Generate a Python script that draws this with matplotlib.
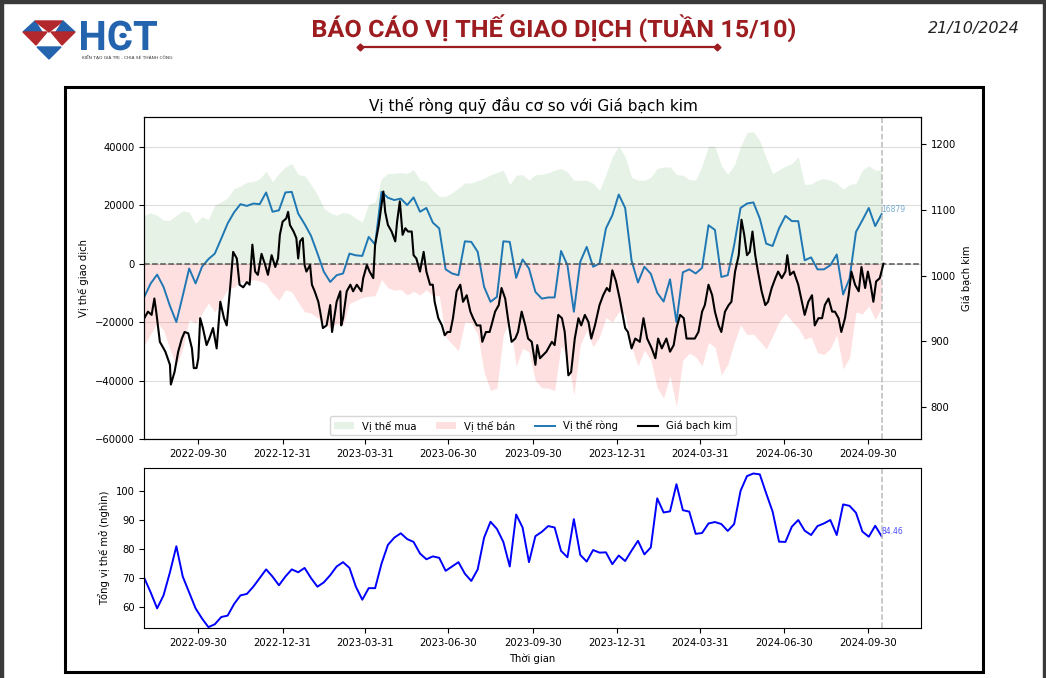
import pandas as pd
import matplotlib
matplotlib.use('Agg')
import matplotlib.pyplot as plt
from matplotlib.patches import Rectangle, Polygon, Circle, PathPatch
from matplotlib.lines import Line2D
from matplotlib.textpath import TextPath
from matplotlib.font_manager import FontProperties
from matplotlib.transforms import Affine2D

# weekly COT report (Tuesdays) from 2022-08-02
week_start = '2022-08-02'
last_week = '2024-10-15'

long_pos = [16500, 17300, 16500, 14800, 14800, 16500, 18000, 17500, 13700, 16000,
            15000, 20000, 21000, 22500, 25600, 26500, 27800, 28000, 29000, 31600,
            28000, 30800, 33000, 34200, 30400, 30000, 27000, 23500, 19000, 17300,
            16500, 17500, 17000, 15500, 14200, 20300, 21000, 29000, 30800, 30800,
            31100, 30800, 32100, 28500, 28000, 25000, 23000, 23000, 24200, 25800,
            27600, 27600, 28300, 29200, 30300, 31200, 31900, 27000, 30200, 30400,
            28500, 30400, 30500, 31000, 31900, 32500, 31300, 28500, 28500, 28500,
            27400, 25000, 30500, 36500, 40100, 36500, 29500, 28500, 28500, 29500,
            32500, 33000, 33000, 30400, 30200, 28700, 28500, 33500, 40100, 40100,
            33500, 30500, 33500, 40000, 44800, 45000, 42000, 36000, 30800, 32000,
            33300, 34200, 36500, 27000, 27200, 28500, 29100, 28500, 27500, 25400,
            27000, 27400, 32000, 33500, 31900, 32000]

short_pos = [-27900, -24100, -20300, -22800, -29300, -35000, -29000, -19200, -20500, -17100,
             -13500, -16600, -12500, -8800, -8100, -6200, -6500, -5500, -6000, -7000,
             -10300, -12600, -9000, -9700, -13300, -16500, -17000, -18500, -20000, -22000,
             -20500, -20900, -13600, -12700, -11600, -11200, -11000, -5500, -8300, -9100,
             -8900, -10800, -9500, -10800, -9000, -11000, -11000, -25000, -27600, -29800,
             -20000, -20200, -24300, -37200, -43400, -42600, -24300, -19600, -35100, -29000,
             -30200, -40100, -42500, -42600, -43500, -28200, -31900, -45000, -27900, -22800,
             -28500, -25000, -18500, -20000, -16500, -17500, -28500, -35000, -29600, -33000,
             -42500, -46000, -38400, -49000, -33000, -30700, -31900, -35000, -27000, -28600,
             -38100, -34500, -27200, -21000, -24300, -24100, -26600, -29200, -24800, -20000,
             -17000, -19700, -22000, -25900, -25100, -30500, -31100, -29100, -24400, -36000,
             -32100, -16600, -17200, -14500, -19100, -15100]

net_pos = [-11400, -6800, -3800, -8000, -14500, -20000, -11000, -1700, -6800, -1100,
           1500, 3400, 8500, 13700, 17500, 20300, 19700, 20500, 20300, 24300,
           17700, 18200, 24300, 24500, 17100, 13500, 9500, 3500, -2800, -6300,
           -4000, -3400, 3400, 2800, 2600, 9100, 6500, 24500, 22500, 21700,
           22200, 20000, 22600, 17700, 19000, 14000, 12000, -2000, -3400, -4000,
           7600, 7400, 4000, -8000, -13100, -11400, 7600, 7400, -4900, 1400,
           -1700, -9700, -12000, -11600, -11600, 4300, -600, -16500, 600, 5700,
           -1100, 0, 12000, 16500, 23600, 19000, 1000, -6500, -1100, -3500,
           -10000, -13000, -5400, -20000, -3000, -2000, -3400, -1500, 13100, 11500,
           -4600, -4000, 6300, 19000, 20500, 20900, 15400, 6800, 6000, 12000,
           16300, 14500, 14500, 1100, 2100, -2000, -2000, -600, 3100, -10600,
           -5100, 10800, 14800, 19000, 12800, 16879]

open_interest = [70, 65, 59.5, 64, 72, 81, 70.5, 65, 59.5, 56,
                 53, 54, 56.5, 57, 61, 64, 64.5, 67, 70, 73,
                 70.5, 67.5, 70.5, 73, 72, 73.5, 70, 67, 68.5, 71,
                 74, 75.5, 73.5, 67, 62.5, 66.5, 66.5, 75, 81.5, 84,
                 85.5, 83.5, 82.5, 78.5, 76.5, 77.5, 77, 72.5, 74, 75.5,
                 71.5, 69, 73, 84, 89.5, 87, 82.5, 74, 92, 87.5,
                 75.5, 84.5, 86, 88, 87.5, 79.4, 77.2, 90.4, 78.0, 75.7,
                 79.7, 78.8, 78.9, 74.8, 77.8, 75.9, 79.5, 82.9, 78.2, 80.6,
                 97.6, 92.7, 93.1, 102.5, 93.5, 93.0, 85.3, 85.6, 88.9, 89.4,
                 88.7, 86.3, 88.7, 100.2, 105.3, 106.2, 105.9, 99.3, 93.0, 82.6,
                 82.5, 87.8, 90.1, 86.4, 84.9, 88.0, 88.9, 90.1, 84.9, 95.5,
                 95.0, 92.6, 86.1, 84.3, 88.1, 84.46]

# platinum price, days counted from week_start
price_days = [0, 4, 8, 11, 13, 17, 23, 28, 29, 33,
              37, 41, 44, 48, 52, 54, 57, 59, 61, 64,
              68, 71, 75, 79, 83, 87, 90, 94, 97, 101,
              104, 108, 112, 115, 118, 121, 124, 128, 132, 135,
              139, 143, 146, 148, 151, 155, 157, 159, 163, 166,
              168, 170, 173, 175, 177, 181, 183, 186, 190, 192,
              195, 199, 203, 205, 210, 214, 215, 217, 221, 225,
              228, 232, 237, 239, 243, 246, 250, 252, 256, 259,
              261, 263, 266, 270, 274, 276, 279, 282, 285, 288,
              292, 294, 297, 301, 305, 308, 312, 315, 317, 321,
              325, 328, 331, 334, 337, 341, 345, 348, 352, 356,
              359, 363, 367, 369, 373, 377, 379, 383, 387, 390,
              394, 397, 401, 405, 408, 412, 416, 419, 423, 427,
              429, 432, 439, 445, 448, 452, 456, 459, 463, 466,
              470, 474, 477, 481, 485, 488, 492, 497, 501, 505,
              508, 511, 515, 519, 525, 528, 532, 536, 541, 545,
              549, 554, 558, 561, 565, 570, 574, 578, 581, 585,
              589, 592, 596, 601, 605, 609, 612, 616, 620, 623,
              627, 630, 634, 638, 641, 645, 649, 652, 655, 658,
              661, 664, 667, 670, 674, 678, 681, 685, 689, 692,
              696, 700, 702, 705, 709, 714, 718, 721, 725, 729,
              732, 736, 740, 743, 747, 751, 754, 758, 761, 765,
              769, 772, 776, 780, 783, 787, 790, 793, 796, 799,
              803, 807]
price = [935, 945, 940, 965, 945, 899, 884, 864, 834, 853,
         884, 904, 914, 912, 889, 859, 859, 874, 935, 920,
         894, 904, 920, 889, 960, 935, 924, 986, 1036, 1026,
         986, 982, 990, 986, 1047, 1006, 1001, 1033, 1016, 1001,
         1031, 1013, 1026, 1062, 1082, 1087, 1097, 1077, 1067, 1057,
         1026, 1052, 1057, 1016, 1006, 1016, 986, 976, 960, 945,
         920, 924, 955, 914, 960, 976, 924, 935, 976, 986,
         976, 986, 976, 996, 1016, 1006, 996, 1047, 1077, 1108,
         1128, 1097, 1077, 1067, 1052, 1082, 1113, 1062, 1072, 1067,
         1067, 1031, 1026, 1006, 1036, 1006, 986, 986, 960, 935,
         924, 909, 914, 914, 935, 976, 986, 960, 970, 945,
         935, 924, 924, 899, 914, 914, 924, 945, 955, 981,
         965, 935, 899, 904, 914, 945, 924, 904, 899, 864,
         894, 874, 884, 899, 894, 940, 935, 914, 848, 853,
         904, 935, 924, 940, 929, 904, 924, 955, 970, 981,
         976, 1008, 991, 965, 920, 914, 889, 904, 899, 935,
         904, 889, 874, 904, 889, 904, 884, 894, 920, 940,
         935, 904, 904, 904, 914, 945, 955, 986, 970, 945,
         924, 914, 945, 955, 960, 1006, 1031, 1085, 1062, 1031,
         1036, 1067, 1031, 1006, 976, 955, 960, 981, 996, 1006,
         996, 1006, 1031, 1001, 1006, 986, 960, 940, 960, 970,
         924, 935, 935, 955, 965, 945, 945, 935, 914, 935,
         970, 1006, 986, 976, 1013, 981, 1006, 986, 960, 991,
         996, 1018]

quarter_ticks = ['2022-09-30', '2022-12-31', '2023-03-31', '2023-06-30', '2023-09-30',
                 '2023-12-31', '2024-03-31', '2024-06-30', '2024-09-30']

weeks = pd.date_range(week_start, periods=len(net_pos), freq='7D')
price_dates = pd.Timestamp(week_start) + pd.to_timedelta(price_days, unit='D')
tick_dates = pd.to_datetime(quarter_ticks)
x_min = pd.Timestamp('2022-08-02')
x_max = pd.Timestamp('2024-11-27')

W, H = 1046, 678
fig = plt.figure(figsize=(W / 100, H / 100), dpi=100)


def fx(x):
    return x / W


def fy(y):
    return 1 - y / H


def fitted_text(text, left, right, top, baseline, color, family='Roboto'):
    # text squeezed into a pixel box (the report uses a condensed bold face)
    prop = FontProperties(family=family, weight='bold')
    tp = TextPath((0, 0), text, size=100, prop=prop)
    bb = tp.get_extents()
    cap = TextPath((0, 0), 'H', size=100, prop=prop).get_extents().height
    sx = (right - left) / bb.width
    sy = (baseline - top) / cap
    tr = Affine2D().translate(-bb.x0, 0).scale(sx, sy).translate(left, H - baseline)
    fig.add_artist(PathPatch(tp, transform=tr, color=color, lw=0))


# page edges
fig.patches.append(Rectangle((0, fy(3)), 1, 3 / H, transform=fig.transFigure, color='#3a3a3a', zorder=0))
fig.patches.append(Rectangle((0, 0), fx(3), 1, transform=fig.transFigure, color='#3a3a3a', zorder=0))
fig.patches.append(Rectangle((fx(1043), 0), fx(3), 1, transform=fig.transFigure, color='#3a3a3a', zorder=0))

# logo
red, blue = '#b3282d', '#2463ae'
logo = [
    ([(23, 32), (35, 21), (42, 32)], blue),
    ([(35, 21), (63, 21), (49, 32)], red),
    ([(56, 32), (63, 21), (75, 32)], blue),
    ([(23, 32), (47, 32), (36, 45)], red),
    ([(51, 32), (75, 32), (62, 45)], red),
    ([(37, 47), (61, 47), (49, 59)], blue),
]
for pts, c in logo:
    fig.patches.append(Polygon([(fx(a), fy(b)) for a, b in pts], closed=True,
                               transform=fig.transFigure, color=c))
fitted_text('HCT', 81, 157, 21, 50, blue)
fig.patches.append(Circle((fx(123), fy(35.5)), 3.0 / W, transform=fig.transFigure, color=blue))
fig.text(fx(82), fy(57), 'KIẾN TẠO GIÁ TRỊ - CHIA SẺ THÀNH CÔNG', fontsize=3.2,
         color='#333333', ha='left', va='center')

# report title
title_red = '#9c1c20'
fitted_text('BÁO CÁO VỊ THẾ GIAO DỊCH (TUẦN 15/10)', 313, 795, 20, 37, title_red)
fig.add_artist(Line2D([fx(360), fx(717)], [fy(46.5), fy(46.5)], color=title_red, lw=1.6,
                      marker='D', markersize=3.5, markevery=[0, 1]))
fig.text(fx(1020), fy(29), '21/10/2024', fontsize=11.5, style='italic', color='#222222',
         ha='right', va='center')

# frame around the chart
fig.patches.append(Rectangle((fx(65), fy(672)), fx(983 - 65), (672 - 87) / H, fill=False,
                             edgecolor='black', lw=2.2, transform=fig.transFigure))

fs = 7.2

# top panel
ax1 = fig.add_axes([fx(144.3), fy(439), fx(921 - 144.3), (439 - 117.3) / H])
ax1.fill_between(weeks, 0, long_pos, color='green', alpha=0.1, lw=0, label='Vị thế mua')
ax1.fill_between(weeks, short_pos, 0, color='red', alpha=0.12, lw=0, label='Vị thế bán')
ax1.plot(weeks, net_pos, color='#1f77b4', lw=1.4, label='Vị thế ròng')
ax1.axhline(0, color='#555555', ls='--', lw=1.1)
ax1.axvline(pd.Timestamp(last_week), color='#bbbbbb', ls='--', lw=1.1)
ax1.grid(axis='y', color='#dddddd', lw=0.8)
ax1.set_axisbelow(True)
ax1.set_ylim(-60000, 50000)
ax1.set_yticks([-60000, -40000, -20000, 0, 20000, 40000])
ax1.set_xlim(x_min, x_max)
ax1.set_xticks(tick_dates)
ax1.set_xticklabels(quarter_ticks)
ax1.tick_params(labelsize=fs)
ax1.set_ylabel('Vị thế giao dịch', fontsize=fs)
ax1.text(weeks[-1], net_pos[-1], f'{net_pos[-1]}', fontsize=5.5, color='#1f77b4', alpha=0.6,
         ha='left', va='bottom')

ax2 = ax1.twinx()
ax2.plot(price_dates, price, color='black', lw=1.5, label='Giá bạch kim')
ax2.set_ylim(751, 1241)
ax2.set_yticks([800, 900, 1000, 1100, 1200])
ax2.tick_params(labelsize=fs)
ax2.set_ylabel('Giá bạch kim', fontsize=fs)

h1, l1 = ax1.get_legend_handles_labels()
h2, l2 = ax2.get_legend_handles_labels()
ax2.legend(h1 + h2, l1 + l2, loc='lower center', ncol=4, fontsize=fs, borderaxespad=0.4)

fig.text(fx(533), fy(105), 'Vị thế ròng quỹ đầu cơ so với Giá bạch kim', fontsize=11,
         ha='center', va='center')

# bottom panel
ax3 = fig.add_axes([fx(144.3), fy(628.3), fx(921 - 144.3), (628.3 - 468.3) / H])
ax3.plot(weeks, open_interest, color='blue', lw=1.4)
ax3.axvline(pd.Timestamp(last_week), color='#bbbbbb', ls='--', lw=1.1)
ax3.text(weeks[-1], open_interest[-1], f'{open_interest[-1]:.2f}', fontsize=5.5, color='blue',
         alpha=0.7, ha='left', va='bottom')
ax3.set_ylim(52.6, 108)
ax3.set_yticks([60, 70, 80, 90, 100])
ax3.set_xlim(x_min, x_max)
ax3.set_xticks(tick_dates)
ax3.set_xticklabels(quarter_ticks)
ax3.tick_params(labelsize=fs)
ax3.set_xlabel('Thời gian', fontsize=fs)
ax3.set_ylabel('Tổng vị thế mở (nghìn)', fontsize=fs)

fig.savefig('out.png', dpi=100)
